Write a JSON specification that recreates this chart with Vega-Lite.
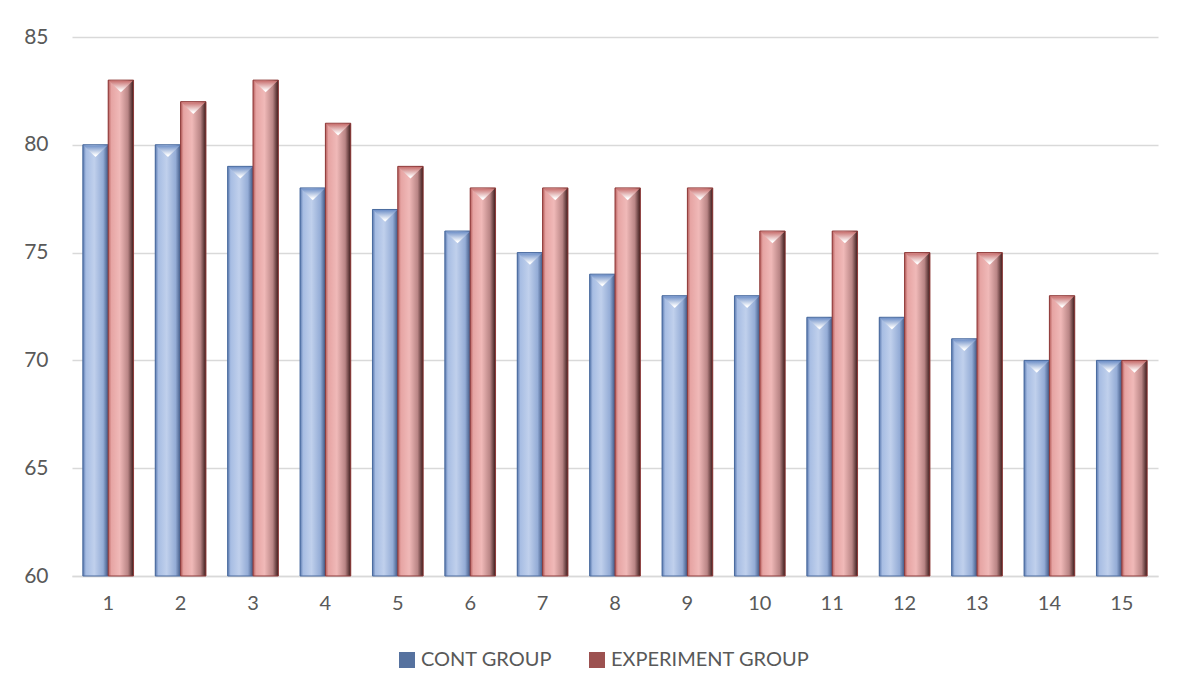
{
  "$schema": "https://vega.github.io/schema/vega-lite/v6.json",
  "width": 1086,
  "height": 539,
  "autosize": {"type": "none"},
  "padding": {"left": 72, "top": 37, "right": 22, "bottom": 117},
  "background": "white",
  "config": {
    "view": {"stroke": null},
    "font": "Lato",
    "legend": {"labelFont": "Lato", "labelColor": "#595959", "labelFontSize": 20, "labelLimit": 0}
  },
  "data": {
    "values": [
      {"cat": 1, "group": "CONT GROUP", "value": 80}, {"cat": 1, "group": "EXPERIMENT GROUP", "value": 83},
      {"cat": 2, "group": "CONT GROUP", "value": 80}, {"cat": 2, "group": "EXPERIMENT GROUP", "value": 82},
      {"cat": 3, "group": "CONT GROUP", "value": 79}, {"cat": 3, "group": "EXPERIMENT GROUP", "value": 83},
      {"cat": 4, "group": "CONT GROUP", "value": 78}, {"cat": 4, "group": "EXPERIMENT GROUP", "value": 81},
      {"cat": 5, "group": "CONT GROUP", "value": 77}, {"cat": 5, "group": "EXPERIMENT GROUP", "value": 79},
      {"cat": 6, "group": "CONT GROUP", "value": 76}, {"cat": 6, "group": "EXPERIMENT GROUP", "value": 78},
      {"cat": 7, "group": "CONT GROUP", "value": 75}, {"cat": 7, "group": "EXPERIMENT GROUP", "value": 78},
      {"cat": 8, "group": "CONT GROUP", "value": 74}, {"cat": 8, "group": "EXPERIMENT GROUP", "value": 78},
      {"cat": 9, "group": "CONT GROUP", "value": 73}, {"cat": 9, "group": "EXPERIMENT GROUP", "value": 78},
      {"cat": 10, "group": "CONT GROUP", "value": 73}, {"cat": 10, "group": "EXPERIMENT GROUP", "value": 76},
      {"cat": 11, "group": "CONT GROUP", "value": 72}, {"cat": 11, "group": "EXPERIMENT GROUP", "value": 76},
      {"cat": 12, "group": "CONT GROUP", "value": 72}, {"cat": 12, "group": "EXPERIMENT GROUP", "value": 75},
      {"cat": 13, "group": "CONT GROUP", "value": 71}, {"cat": 13, "group": "EXPERIMENT GROUP", "value": 75},
      {"cat": 14, "group": "CONT GROUP", "value": 70}, {"cat": 14, "group": "EXPERIMENT GROUP", "value": 73},
      {"cat": 15, "group": "CONT GROUP", "value": 70}, {"cat": 15, "group": "EXPERIMENT GROUP", "value": 70}
    ]
  },
  "encoding": {
    "x": {
      "field": "cat", "type": "ordinal",
      "scale": {"paddingInner": 0.3, "paddingOuter": 0.15},
      "axis": {"title": null, "labelAngle": 0, "ticks": false, "domainColor": "#d9d9d9", "domainWidth": 1.5, "labelPadding": 17, "grid": false, "labelFont": "Lato", "labelFontSize": 20, "labelColor": "#595959"}
    },
    "xOffset": {"field": "group", "type": "nominal", "scale": {"domain": ["CONT GROUP", "EXPERIMENT GROUP"], "paddingInner": 0, "paddingOuter": 0}},
    "y": {
      "field": "value", "type": "quantitative",
      "scale": {"domain": [60, 85], "zero": false, "nice": false},
      "axis": {"title": null, "values": [60, 65, 70, 75, 80, 85], "ticks": false, "domain": false, "gridColor": "#d9d9d9", "gridWidth": 1.5, "labelPadding": 24, "labelFont": "Lato", "labelFontSize": 21, "labelColor": "#595959"}
    }
  },
  "layer": [
    {
      "mark": {"type": "bar", "strokeWidth": 1},
      "encoding": {
        "y2": {"datum": 60},
        "color": {
          "field": "group", "type": "nominal",
          "scale": {"domain": ["CONT GROUP", "EXPERIMENT GROUP"], "range": ["#56729f", "#9c5150"]},
          "legend": {"title": null, "orient": "none", "legendX": 325, "legendY": 613, "direction": "horizontal", "symbolType": "square", "symbolSize": 256, "symbolStrokeWidth": 1.5, "columnPadding": 34, "labelOffset": 4}
        }
      }
    },
    {
      "transform": [{"filter": "datum.group === 'CONT GROUP'"}],
      "mark": {"type": "bar", "stroke": "#4a6b9f", "strokeWidth": 1,
        "fill": {"gradient": "linear", "x1": 0, "y1": 0, "x2": 1, "y2": 0, "stops": [
          {"offset": 0, "color": "#5877ad"}, {"offset": 0.12, "color": "#a7bde3"},
          {"offset": 0.45, "color": "#c0d0ec"}, {"offset": 0.8, "color": "#94acd6"},
          {"offset": 1, "color": "#3e5683"}]}},
      "encoding": {"y2": {"datum": 60}}
    },
    {
      "transform": [{"filter": "datum.group === 'EXPERIMENT GROUP'"}],
      "mark": {"type": "bar", "stroke": "#8f3b3a", "strokeWidth": 1,
        "fill": {"gradient": "linear", "x1": 0, "y1": 0, "x2": 1, "y2": 0, "stops": [
          {"offset": 0, "color": "#b45b59"}, {"offset": 0.12, "color": "#e6a4a3"},
          {"offset": 0.45, "color": "#f0b9b8"}, {"offset": 0.78, "color": "#b98585"},
          {"offset": 1, "color": "#3a1a1a"}]}},
      "encoding": {"y2": {"datum": 60}}
    },
    {
      "transform": [{"filter": "datum.group === 'CONT GROUP'"}],
      "mark": {"type": "point", "filled": true, "size": 600, "opacity": 1, "strokeWidth": 0,
        "shape": "M-0.98,0.05L0.98,0.05L0,1Z",
        "fill": {"gradient": "linear", "x1": 0, "y1": 0, "x2": 0, "y2": 1, "stops": [
          {"offset": 0, "color": "#6f90c8"}, {"offset": 0.85, "color": "#ffffff"}]}}
    },
    {
      "transform": [{"filter": "datum.group === 'EXPERIMENT GROUP'"}],
      "mark": {"type": "point", "filled": true, "size": 600, "opacity": 1, "strokeWidth": 0,
        "shape": "M-0.98,0.05L0.98,0.05L0,1Z",
        "fill": {"gradient": "linear", "x1": 0, "y1": 0, "x2": 0, "y2": 1, "stops": [
          {"offset": 0, "color": "#c86f6e"}, {"offset": 0.85, "color": "#ffffff"}]}}
    }
  ]
}
